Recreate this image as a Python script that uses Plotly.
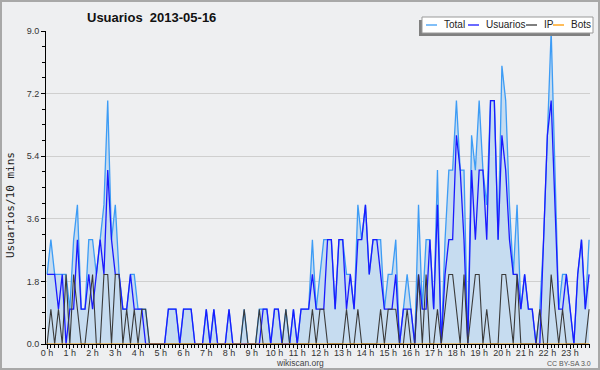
import plotly.graph_objects as go

# ---- data (one value per 10 minutes, 144 points) ----
total = [2,3,2,2,2,2, 1,3,4,1,1,3, 3,2,3,4,7,3, 4,2,1,1,2,2,
         1,1,1,0,0,0, 0,0,1,1,1,0, 1,1,1,0,0,0, 1,0,1,0,0,0,
         1,0,0,0,1,0, 0,0,1,1,1,0, 1,1,0,1,0,1, 0,1,1,1,3,1,
         2,3,3,3,1,3, 3,2,2,1,4,3, 4,2,3,3,3,1, 2,2,3,0,1,2,
         1,0,4,1,3,3, 1,5,0,3,5,5, 7,5,5,0,6,5, 7,5,4,7,7,3,
         8,7,4,2,4,1, 2,1,1,0,1,3, 6,9,5,1,2,2, 1,0,2,3,1,3]
usuarios = [2,2,2,1,2,0, 1,1,3,1,1,2, 1,2,3,2,5,3, 2,2,1,1,2,1,
            1,1,0,0,0,0, 0,0,1,1,1,0, 1,1,1,0,0,0, 1,0,1,0,0,0,
            1,0,0,0,0,0, 0,0,0,1,1,0, 1,1,0,0,0,1, 0,1,1,1,2,1,
            1,1,3,3,1,3, 3,1,2,1,3,3, 4,2,3,3,2,1, 1,1,2,0,1,1,
            1,0,2,1,1,3, 1,4,0,2,3,3, 6,5,3,0,5,3, 5,5,3,7,7,3,
            6,5,3,2,2,1, 2,1,1,0,0,3, 6,7,4,1,1,2, 1,0,2,3,1,2]
ip = [0,1,0,1,0,2, 0,2,1,0,0,1, 2,0,0,2,2,0, 2,2,0,1,0,1,
      0,1,1,0,0,0, 0,0,0,0,0,0, 0,0,0,0,0,0, 0,0,0,0,0,0,
      0,0,0,0,1,0, 0,0,1,0,0,0, 0,0,0,1,0,0, 0,0,0,0,1,0,
      1,1,0,0,0,0, 0,1,0,0,1,0, 0,0,0,0,1,0, 1,1,1,0,0,1,
      0,0,2,0,2,0, 0,1,0,1,2,2, 1,0,2,0,1,2, 2,0,1,0,0,0,
      2,2,1,0,2,0, 0,0,0,0,1,0, 0,2,1,0,1,0, 0,0,0,0,0,1]
bots = [0] * 144
hours = [i / 6 for i in range(144)]
hour_ticks = list(range(24))
hour_labels = [f"{h} h" for h in hour_ticks]
y_ticks = [0.0, 1.8, 3.6, 5.4, 7.2, 9.0]

# ---- layout geometry (pixels) ----
W, H = 600, 370
L, R, T, B = 46, 10, 31, 26
PW, PH = W - L - R, H - T - B


def px(x):
    return (x - L) / PW


def py(y):
    return 1 - (y - T) / PH


BG = "#eeeff1"
C_TOTAL = "#3d9cf5"
C_FILL = "#c6dcf0"
C_USERS = "#1a1aff"
C_IP = "#3a3a3a"
C_BOTS = "#ff9900"

fig = go.Figure()
fig.add_trace(go.Scatter(x=hours, y=total, mode="lines", fill="tozeroy",
                         fillcolor=C_FILL, line=dict(color=C_TOTAL, width=1.3),
                         name="Total", hoverinfo="skip"))
fig.add_trace(go.Scatter(x=hours, y=usuarios, mode="lines",
                         line=dict(color=C_USERS, width=1.3), name="Usuarios"))
fig.add_trace(go.Scatter(x=hours, y=ip, mode="lines",
                         line=dict(color=C_IP, width=1.1), name="IP"))
fig.add_trace(go.Scatter(x=hours, y=bots, mode="lines",
                         line=dict(color=C_BOTS, width=1.1), name="Bots"))

tickfont = dict(family="Liberation Sans, Arial, sans-serif", size=9, color="#333")

fig.update_layout(
    width=W, height=H,
    margin=dict(l=L, r=R, t=T, b=B, pad=0),
    paper_bgcolor=BG, plot_bgcolor=BG,
    showlegend=False,
    xaxis=dict(range=[-0.048, 23.874], tickmode="array", tickvals=hour_ticks,
               ticktext=hour_labels, ticks="outside", ticklen=4, tickcolor="#000",
               tickwidth=1, showgrid=False, zeroline=False, showline=True,
               linecolor="#000", linewidth=1, tickfont=tickfont, ticklabelstandoff=-4,
               minor=dict(dtick=1 / 6, tick0=0, ticks="outside", ticklen=3,
                          tickcolor="#000", showgrid=False)),
    yaxis=dict(range=[0, 9], tickmode="array", tickvals=y_ticks,
               ticktext=[f"{v:.1f}" for v in y_ticks], ticks="outside", ticklen=4,
               tickcolor="#000", showgrid=True, gridcolor="#cfcfcf", gridwidth=1,
               zeroline=False, showline=True, linecolor="#000", linewidth=1,
               tickfont=tickfont, ticklabelstandoff=0,
               minor=dict(dtick=0.45, tick0=0, ticks="outside", ticklen=3,
                          tickcolor="#000", showgrid=False)),
)

shapes = []
# outer border
shapes.append(dict(type="rect", xref="paper", yref="paper",
                   x0=px(1), x1=px(599), y0=py(1), y1=py(369),
                   line=dict(color="#a8a8a8", width=2), fillcolor="rgba(0,0,0,0)",
                   layer="above"))
# legend shadow + box
shapes.append(dict(type="rect", xref="paper", yref="paper",
                   x0=px(419), x1=px(590), y0=py(20), y1=py(36),
                   line=dict(width=0), fillcolor="#808080", layer="above"))
shapes.append(dict(type="rect", xref="paper", yref="paper",
                   x0=px(422), x1=px(593), y0=py(17), y1=py(33),
                   line=dict(color="#999", width=1), fillcolor="#ffffff", layer="above"))

legend_items = [("Total", C_TOTAL, 426, 442), ("Usuarios", C_USERS, 468, 484),
                ("IP", C_IP, 526, 542), ("Bots", C_BOTS, 553, 569)]
annotations = []
for name, col, lx, tx in legend_items:
    shapes.append(dict(type="line", xref="paper", yref="paper",
                       x0=px(lx), x1=px(lx + 11), y0=py(25), y1=py(25),
                       line=dict(color=col, width=1.3), layer="above"))
    annotations.append(dict(text=name, xref="paper", yref="paper", x=px(tx), y=py(25),
                            xanchor="left", yanchor="middle", showarrow=False,
                            font=dict(family="Liberation Sans, Arial, sans-serif",
                                      size=10, color="#222")))

annotations.append(dict(text="<b>Usuarios  2013-05-16</b>", xref="paper", yref="paper",
                        x=px(151), y=py(17), xanchor="center", yanchor="middle",
                        showarrow=False,
                        font=dict(family="Liberation Sans, Arial, sans-serif",
                                  size=13, color="#111")))
annotations.append(dict(text="Usuarios/10 mins", xref="paper", yref="paper",
                        x=px(10), y=py(205), xanchor="center", yanchor="middle",
                        textangle=-90, showarrow=False,
                        font=dict(family="DejaVu Sans Mono, monospace", size=11,
                                  color="#222")))
annotations.append(dict(text="wikiscan.org", xref="paper", yref="paper",
                        x=px(300), y=py(363), xanchor="center", yanchor="middle",
                        showarrow=False,
                        font=dict(family="Liberation Sans, Arial, sans-serif",
                                  size=8.5, color="#444")))
annotations.append(dict(text="CC BY-SA 3.0", xref="paper", yref="paper",
                        x=px(569), y=py(363), xanchor="center", yanchor="middle",
                        showarrow=False,
                        font=dict(family="Liberation Sans, Arial, sans-serif",
                                  size=7, color="#555")))

fig.update_layout(shapes=shapes, annotations=annotations)
fig.write_html("out.html", config={"displayModeBar": False},
               post_script="document.body.style.margin='0';"
                           "document.body.style.padding='0';"
                           "document.body.style.overflow='hidden';")
